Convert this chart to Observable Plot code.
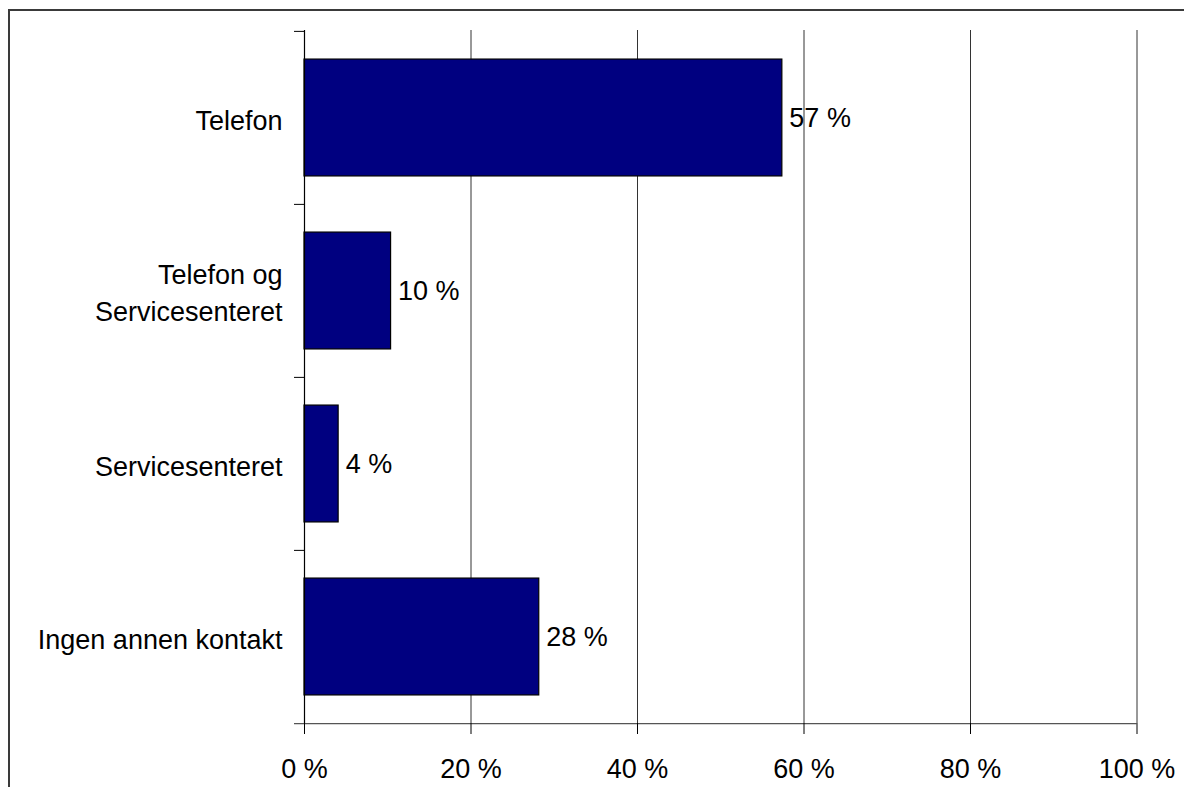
<!DOCTYPE html>
<html>
<head>
<meta charset="utf-8">
<script src="https://cdn.jsdelivr.net/npm/d3@7"></script>
<script src="https://cdn.jsdelivr.net/npm/@observablehq/plot@0.6"></script>
<style>
  html, body { margin: 0; padding: 0; background: #fff; overflow: hidden; }
  #frame { position: absolute; left: 8px; top: 9px; width: 1300px; height: 900px; border: 2px solid #3a3a3a; box-sizing: border-box; }
  #chart { position: absolute; left: 0; top: 0; }
</style>
</head>
<body>
<div id="frame"></div>
<div id="chart"></div>
<script>
const categories = ["Telefon", "Telefon og Servicesenteret", "Servicesenteret", "Ingen annen kontakt"];
const categoryLabels = ["Telefon", "Telefon og\nServicesenteret", "Servicesenteret", "Ingen annen kontakt"];
const values = [57.4, 10.4, 4.1, 28.2];
const xTicks = [0, 20, 40, 60, 80, 100];
const gridTicks = [20, 40, 60, 80, 100];

const data = categories.map((c, i) => ({category: c, value: values[i]}));
const labelOf = new Map(categories.map((c, i) => [c, categoryLabels[i]]));

const W = 1184, H = 787;
const mTop = 30, mBottom = 64, mLeft = 304, mRight = 47.5;
const band = (H - mTop - mBottom) / categories.length;

const chart = Plot.plot({
  width: W,
  height: H,
  marginTop: mTop,
  marginBottom: mBottom,
  marginLeft: mLeft,
  marginRight: mRight,
  style: {fontFamily: "'Liberation Sans', Arial, sans-serif", fontSize: "27px", color: "#000", background: "transparent"},
  x: {domain: [0, 100], label: null},
  y: {domain: categories, padding: 0, label: null},
  marks: [
    Plot.ruleX(gridTicks, {stroke: "#333", strokeWidth: 1}),
    Plot.barX(data, {x: "value", y: "category", fill: "#000080", stroke: "#000", strokeWidth: 1.2, insetTop: band * 0.162, insetBottom: band * 0.162}),
    Plot.text(data, {x: "value", y: "category", text: d => Math.round(d.value) + " %", textAnchor: "start", dx: 7, fontSize: 27, fill: "#000"}),
    // y axis line
    Plot.ruleX([0], {stroke: "#000", strokeWidth: 1.2}),
    // band boundary ticks on the y axis
    Plot.ruleY(categories, {y: d => d, x1: 0, x2: 0, insetLeft: -10, dy: -band / 2, stroke: "#000", strokeWidth: 1}),
    // x axis line at the bottom
    Plot.ruleY([categories[categories.length - 1]], {y: d => d, x1: 0, x2: 100, insetLeft: -10, dy: band / 2, stroke: "#555", strokeWidth: 1.2}),
    Plot.axisX({ticks: xTicks, tickSize: 11, tickPadding: 24, tickFormat: d => d + " %", stroke: "#000", fontSize: 27, strokeOpacity: 1, label: null}),
    Plot.axisY({tickSize: 0, tickPadding: 22, tickFormat: d => labelOf.get(d), fontSize: 27, lineHeight: 1.37, label: null})
  ]
});
document.getElementById("chart").appendChild(chart);
</script>
</body>
</html>
